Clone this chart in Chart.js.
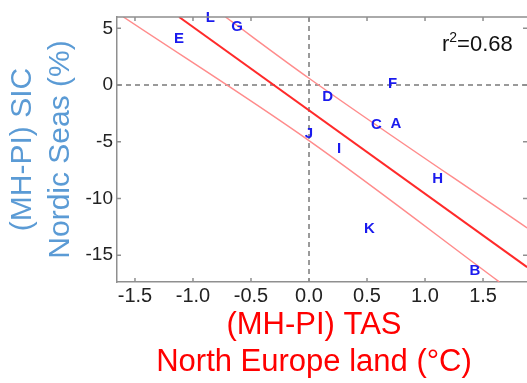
<!DOCTYPE html>
<html>
<head>
<meta charset="utf-8">
<script src="https://cdn.jsdelivr.net/npm/chart.js@4/dist/chart.umd.min.js"></script>
<style>
  html, body { margin: 0; padding: 0; background: #fff; }
</style>
</head>
<body>
<canvas id="chart" width="527" height="383"></canvas>
<script>
// models (letters) with their MH-PI anomalies
var modelNames = ['A', 'B', 'C', 'D', 'E', 'F', 'G', 'H', 'I', 'J', 'K', 'L'];
var tasAnom = [0.75, 1.43, 0.58, 0.16, -1.12, 0.72, -0.62, 1.11, 0.26, 0.0, 0.52, -0.85];
var sicAnom = [-3.4, -16.4, -3.5, -1.0, 4.1, 0.1, 5.1, -8.3, -5.6, -4.3, -12.7, 5.9];

// regression line and the two bands
var fitX = [-1.12, 1.88];
var fitY = [6.0, -16.05];
var upperX = [-0.72, 0.0, 1.88];
var upperY = [6.0, 0.6, -12.6];
var lowerX = [-1.6, 0.0, 1.64];
var lowerY = [6.0, -4.9, -17.35];

var xTicks = [-1.5, -1.0, -0.5, 0.0, 0.5, 1.0, 1.5];
var yTicks = [-15, -10, -5, 0, 5];
var rSquared = '0.68';

var axisGray = '#8f8f8f';

function toPoints(xs, ys) {
  return xs.map(function (x, i) { return { x: x, y: ys[i] }; });
}

var framePlugin = {
  id: 'frame',
  beforeDatasetsDraw: function (chart) {
    var ctx = chart.ctx, a = chart.chartArea;
    var x0 = chart.scales.x.getPixelForValue(0);
    var y0 = chart.scales.y.getPixelForValue(0);
    ctx.save();
    ctx.strokeStyle = '#7a7a7a';
    ctx.lineWidth = 1.5;
    ctx.setLineDash([5, 4]);
    ctx.beginPath();
    ctx.moveTo(a.left, y0); ctx.lineTo(a.right, y0);
    ctx.moveTo(x0, a.top); ctx.lineTo(x0, a.bottom);
    ctx.stroke();
    ctx.restore();
  },
  afterDatasetsDraw: function (chart) {
    var ctx = chart.ctx, a = chart.chartArea;
    var xs = chart.scales.x, ys = chart.scales.y;
    ctx.save();

    // letters at the model points
    var meta = chart.getDatasetMeta(0);
    ctx.fillStyle = '#1a1aee';
    ctx.font = 'bold 15px "Liberation Sans", Arial, sans-serif';
    ctx.textAlign = 'center';
    ctx.textBaseline = 'middle';
    meta.data.forEach(function (pt, i) {
      ctx.fillText(modelNames[i], pt.x, pt.y);
    });

    // top border and inward ticks
    ctx.strokeStyle = axisGray;
    ctx.lineWidth = 1.5;
    ctx.beginPath();
    ctx.moveTo(a.left, a.top); ctx.lineTo(a.right, a.top);
    xTicks.forEach(function (v) {
      var p = xs.getPixelForValue(v);
      ctx.moveTo(p, a.bottom); ctx.lineTo(p, a.bottom - 4);
      ctx.moveTo(p, a.top); ctx.lineTo(p, a.top + 4);
    });
    yTicks.forEach(function (v) {
      var p = ys.getPixelForValue(v);
      ctx.moveTo(a.left, p); ctx.lineTo(a.left + 4, p);
      ctx.moveTo(a.right, p); ctx.lineTo(a.right - 4, p);
    });
    ctx.stroke();

    // r squared
    ctx.fillStyle = '#111';
    ctx.textAlign = 'left';
    ctx.textBaseline = 'alphabetic';
    var tx = a.right - 85, ty = 51;
    ctx.font = '22px "Liberation Sans", Arial, sans-serif';
    ctx.fillText('r', tx, ty);
    tx += ctx.measureText('r').width;
    ctx.font = '14px "Liberation Sans", Arial, sans-serif';
    ctx.fillText('2', tx, ty - 9);
    tx += ctx.measureText('2').width;
    ctx.font = '22px "Liberation Sans", Arial, sans-serif';
    ctx.fillText('=' + rSquared, tx, ty);

    // x axis title
    ctx.fillStyle = '#ff0000';
    ctx.font = '31px "Liberation Sans", Arial, sans-serif';
    ctx.textAlign = 'center';
    ctx.textBaseline = 'middle';
    var cx = (a.left + a.right) / 2 - 8;
    ctx.fillText('(MH-PI) TAS', cx, 325);
    ctx.fillText('North Europe land (\u00B0C)', cx, 362);
    ctx.restore();
  }
};

var ctx = document.getElementById('chart').getContext('2d');
var chart = new Chart(ctx, {
  type: 'scatter',
  data: {
    datasets: [
      { label: 'models', data: toPoints(tasAnom, sicAnom), pointRadius: 0, showLine: false },
      { label: 'fit', data: toPoints(fitX, fitY), showLine: true, pointRadius: 0,
        borderColor: '#ff2a2a', borderWidth: 2 },
      { label: 'upper', data: toPoints(upperX, upperY), showLine: true, pointRadius: 0,
        borderColor: '#ff8c8c', borderWidth: 1.5, cubicInterpolationMode: 'monotone' },
      { label: 'lower', data: toPoints(lowerX, lowerY), showLine: true, pointRadius: 0,
        borderColor: '#ff8c8c', borderWidth: 1.5, cubicInterpolationMode: 'monotone' }
    ]
  },
  options: {
    responsive: false,
    animation: false,
    devicePixelRatio: 1,
    layout: { padding: { top: 17, right: 0, left: 0, bottom: 0 } },
    plugins: { legend: { display: false }, tooltip: { enabled: false } },
    scales: {
      x: {
        type: 'linear',
        min: -1.655,
        max: 1.879,
        grid: { display: false, drawTicks: false },
        border: { display: true, color: axisGray, width: 1.5 },
        afterBuildTicks: function (s) { s.ticks = xTicks.map(function (v) { return { value: v }; }); },
        afterFit: function (s) { s.height = 101; },
        ticks: {
          padding: 2,
          color: '#222',
          font: { family: '"Liberation Sans", Arial, sans-serif', size: 20 },
          callback: function (v) { return v.toFixed(1); }
        }
      },
      y: {
        type: 'linear',
        min: -17.36,
        max: 6.0,
        grid: { display: false, drawTicks: false },
        border: { display: true, color: axisGray, width: 1.5 },
        afterBuildTicks: function (s) { s.ticks = yTicks.map(function (v) { return { value: v }; }); },
        afterFit: function (s) { s.width = 117; },
        ticks: {
          padding: 4,
          color: '#222',
          font: { family: '"Liberation Sans", Arial, sans-serif', size: 19 },
          callback: function (v) { return String(v); }
        },
        title: {
          display: true,
          text: ['(MH-PI) SIC', 'Nordic Seas (%)'],
          color: '#5b9bd5',
          font: { family: '"Liberation Sans", Arial, sans-serif', size: 30, lineHeight: 1.27 },
          padding: { top: 4, bottom: 0 }
        }
      }
    }
  },
  plugins: [framePlugin]
});
</script>
</body>
</html>
